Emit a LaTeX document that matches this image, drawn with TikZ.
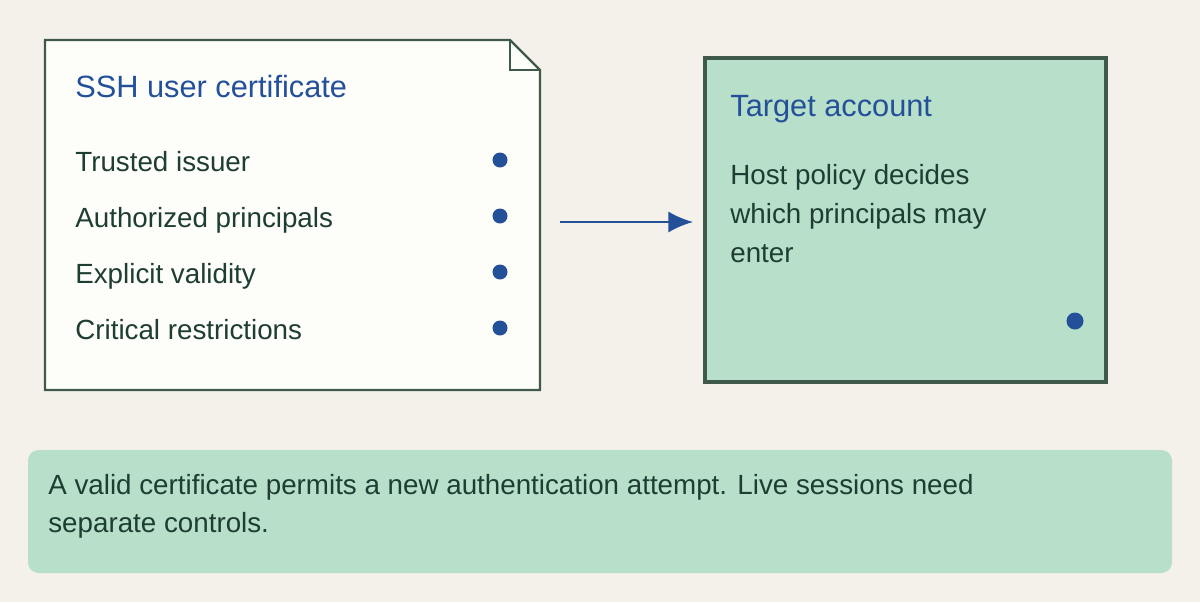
\documentclass[tikz,border=0pt]{standalone}
\usepackage{fontspec}
\setmainfont{Liberation Sans}
\usetikzlibrary{arrows.meta}
\definecolor{paper}{RGB}{244,241,235}
\definecolor{card}{RGB}{253,253,249}
\definecolor{edge}{RGB}{63,90,74}
\definecolor{inkblue}{RGB}{36,80,154}
\definecolor{inkgreen}{RGB}{30,61,51}
\definecolor{mint}{RGB}{184,223,201}
\tikzset{
  title/.style={anchor=base west, text=inkblue, font=\fontsize{17.5}{20}\selectfont, inner sep=0pt},
  item/.style={anchor=base west, text=inkgreen, font=\fontsize{15.8}{22}\selectfont, inner sep=0pt},
  dot/.style={fill=inkblue, draw=none},
}
\begin{document}
\begin{tikzpicture}[x=0.02cm, y=-0.02cm]
\useasboundingbox (0,0) rectangle (1200,602);
\fill [paper] (0,0) rectangle (1200,602);
% certificate card
\draw [edge, fill=card, line width=1.4pt] (45,40) -- (510,40) -- (540,70) -- (540,390) -- (45,390) -- cycle;
\draw [edge, line width=1.4pt] (510,40) -- (510,70) -- (540,70);
\node [title] (cert) at (75,97) {SSH user certificate};
\node [item] (issuer) at (75,171) {Trusted issuer};
\node [item] (princ) at (75,227) {Authorized principals};
\node [item] (valid) at (75,283) {Explicit validity};
\node [item] (restr) at (75,339) {Critical restrictions};
\foreach \y in {160,216,272,328}
  \fill [dot] (500,\y) circle (7.5);
% target account
\draw [edge, fill=mint, line width=2pt] (705,58) rectangle (1106,382);
\node [title] (target) at (730,116) {Target account};
\node [item, align=left] (policy) at (730,262)
  {Host policy decides\\which principals may\\enter};
\fill [dot] (1075,321) circle (8.5);
% arrow
\coordinate (src) at (560,222);
\coordinate (dst) at (693,222);
\draw [inkblue, line width=1.3pt, -{Latex[length=14pt,width=12pt]}] (src) -- (dst);
% note
\fill [mint, rounded corners=6pt] (28,450) rectangle (1172,573);
\node [item, align=left, font=\fontsize{15.8}{21.5}\selectfont] (note) at (48,532)
  {A valid certificate permits a new authentication attempt. Live sessions need\\separate controls.};
\end{tikzpicture}
\end{document}
